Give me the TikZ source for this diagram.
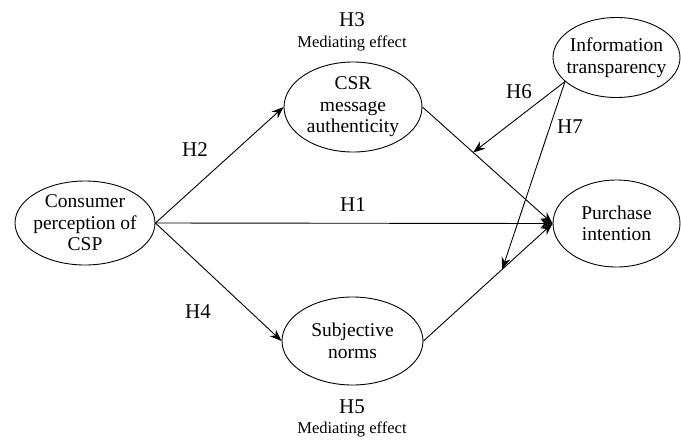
\documentclass[tikz,border=0pt]{standalone}
\usepackage{fontspec}
\setmainfont{Liberation Serif}
\usetikzlibrary{arrows.meta,shapes.geometric}

\begin{document}
\begin{tikzpicture}[x=1pt,y=-1pt,>={Stealth[length=12pt,width=9pt]},line width=0.9pt,
  main node/.style={ellipse,draw,align=center,inner sep=-8pt,font=\fontsize{19.5}{21.5}\selectfont},
  hyp/.style={font=\fontsize{21}{22}\selectfont},
  note/.style={font=\fontsize{16.5}{18}\selectfont}]

  \useasboundingbox (0,0) rectangle (681,440);

  \node[main node,minimum width=140,minimum height=84] (csp) at (85,223) {Consumer\\perception of\\CSP};
  \node[main node,minimum width=138,minimum height=90] (csr) at (353,107) {CSR\\message\\authenticity};
  \node[main node,minimum width=141,minimum height=88] (sn) at (352.5,341) {Subjective\\norms};
  \node[main node,minimum width=127,minimum height=80] (info) at (616.5,57.5) {Information\\transparency};
  \node[main node,minimum width=127,minimum height=87] (pi) at (616.5,223.5) {Purchase\\intention};

  % hypotheses
  \node[hyp] (h1) at (353,205) {H1};
  \node[hyp] (h2) at (195,150) {H2};
  \node[hyp] (h3) at (352,20) {H3};
  \node[note] (m3) at (352,43) {Mediating effect};
  \node[hyp] (h4) at (198,312) {H4};
  \node[hyp] (h5) at (352,407) {H5};
  \node[note] (m5) at (352,429) {Mediating effect};
  \node[hyp] (h6) at (519,92) {H6};
  \node[hyp] (h7) at (570,127) {H7};

  \draw[->] (csp.east) -- (csr.west);
  \draw[->] (csp.east) -- (sn.west);
  \draw[->] (csp.east) -- (pi.west);
  \draw[->] (csr.east) -- coordinate[pos=0.39] (t6) (pi.west);
  \draw[->] (sn.east) -- coordinate[pos=0.61] (t7) (pi.west);
  \draw[->] (info.205) -- (t6);
  \draw[->] (info.205) -- (t7);
\end{tikzpicture}
\end{document}
